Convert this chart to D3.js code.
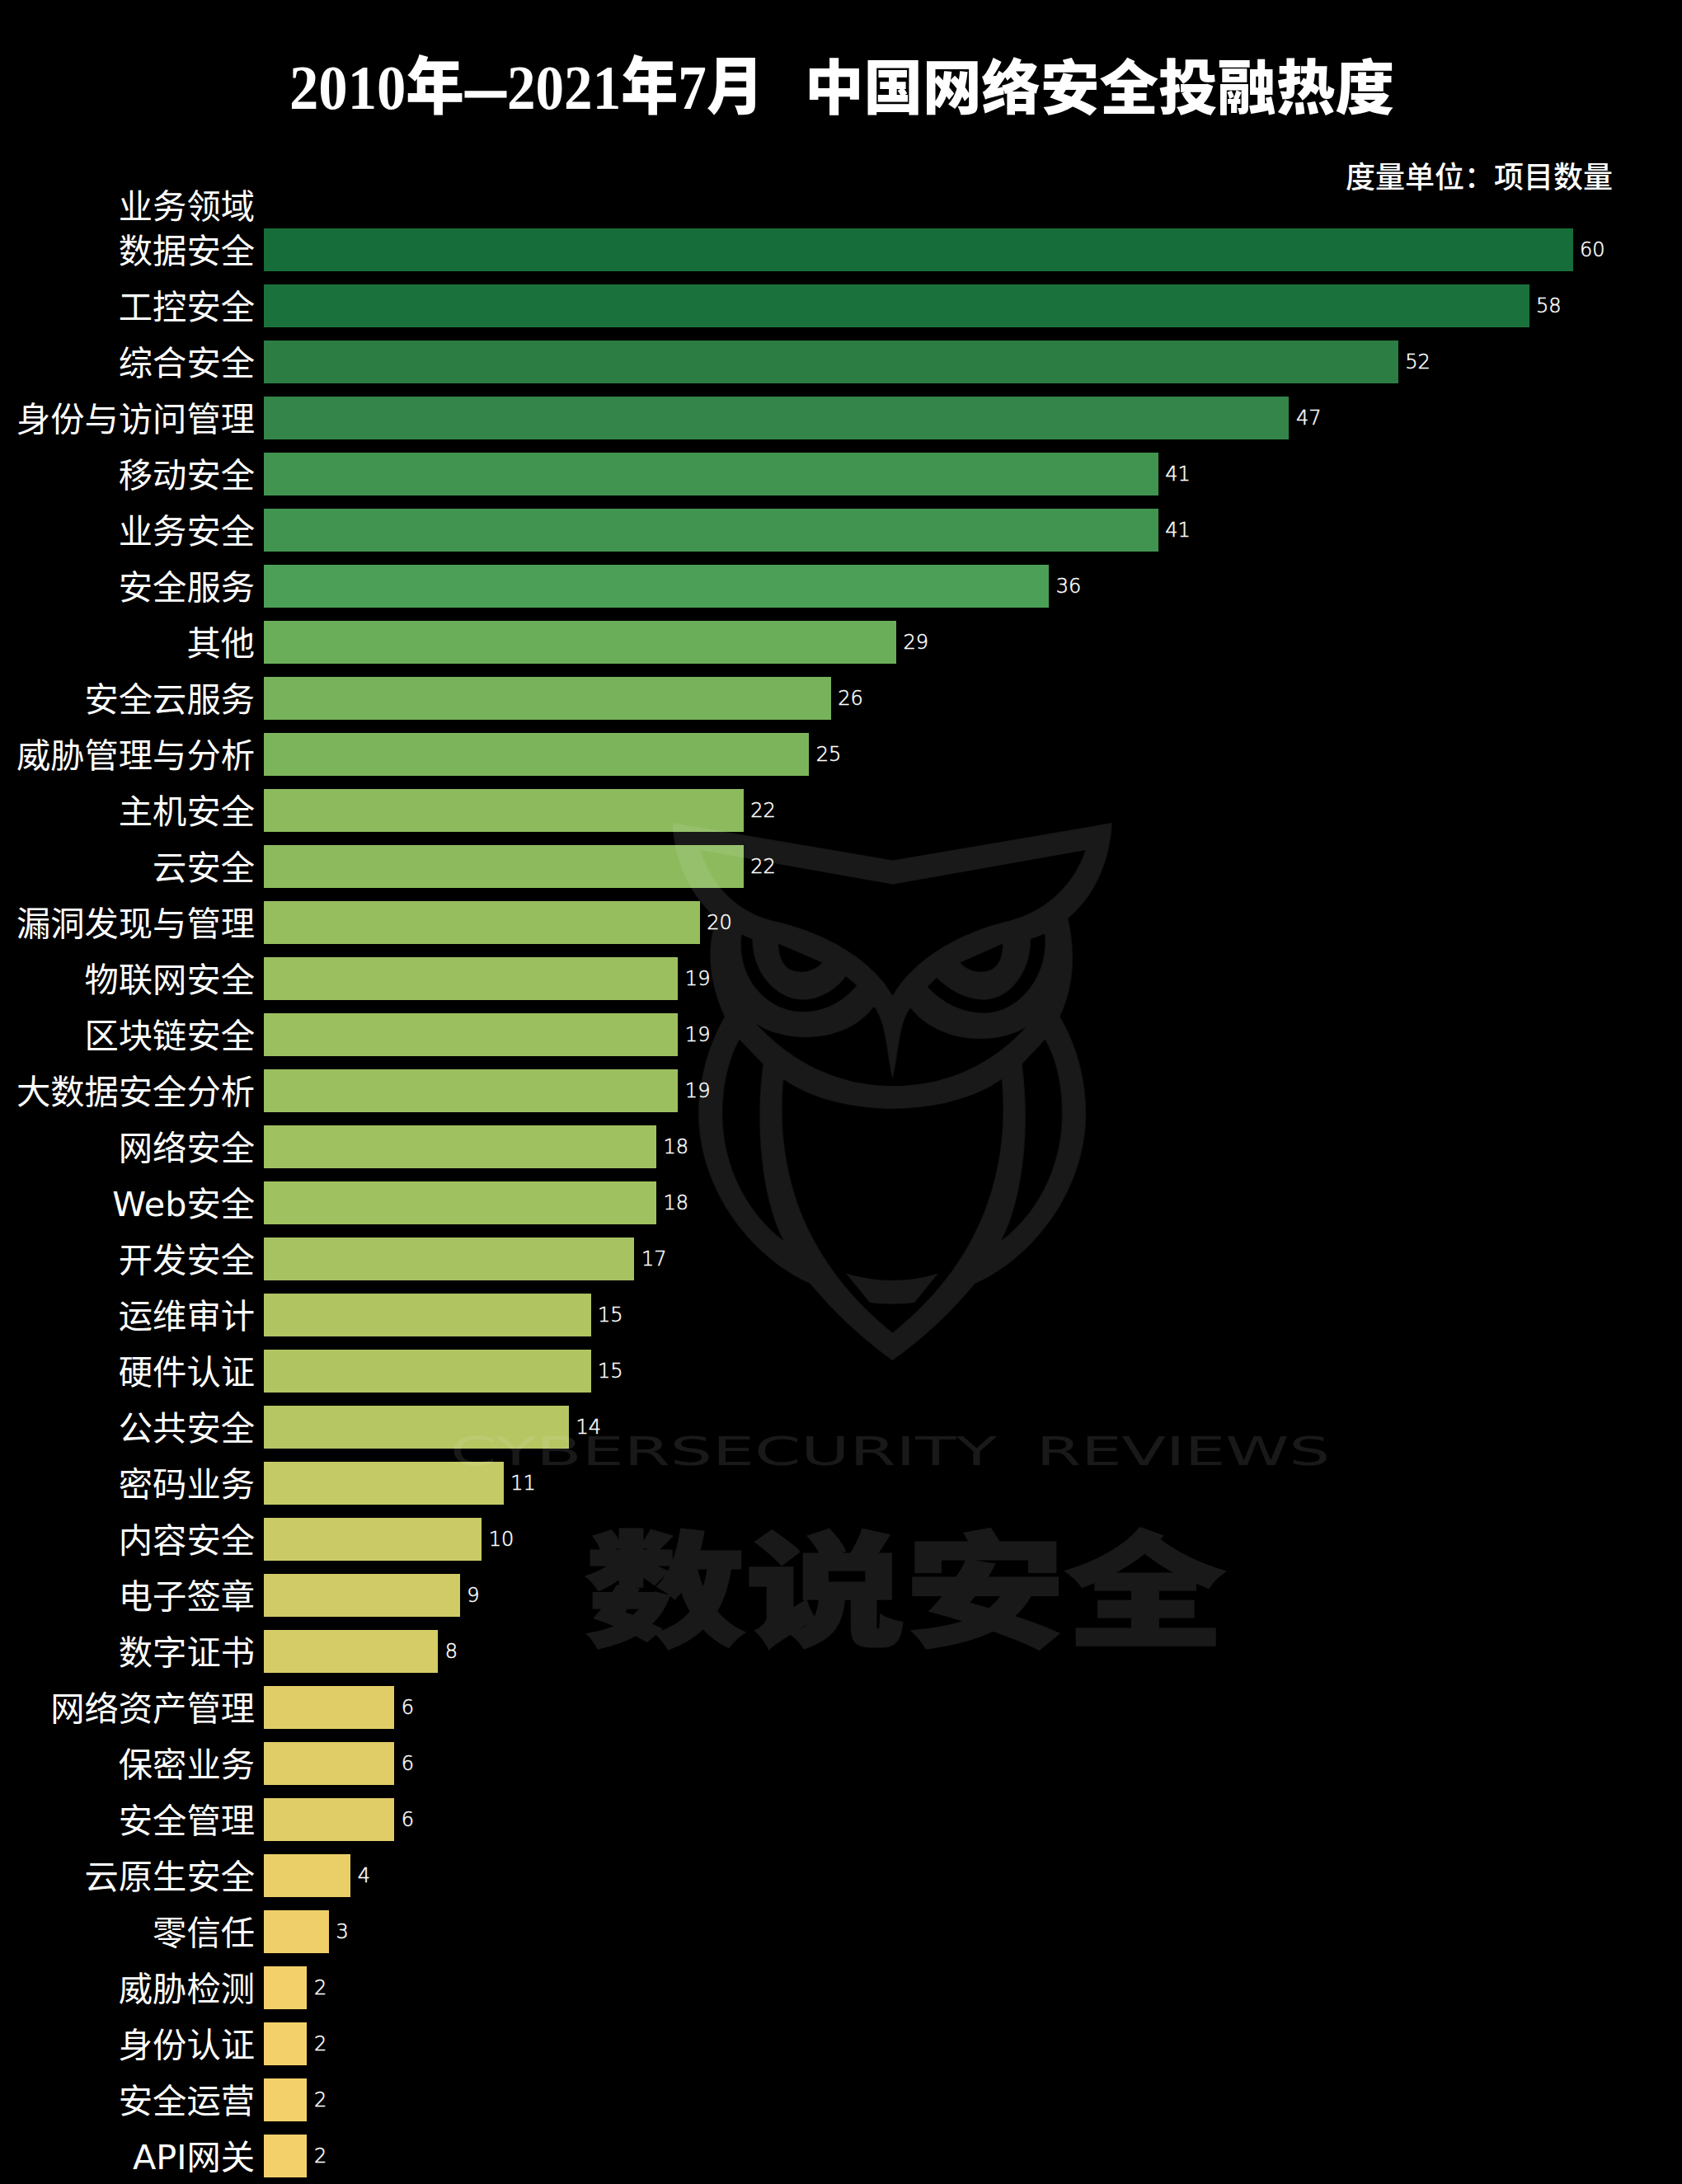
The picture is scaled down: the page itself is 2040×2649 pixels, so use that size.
<!DOCTYPE html>
<html><head><meta charset="utf-8">
<script src="https://cdnjs.cloudflare.com/ajax/libs/d3/7.8.5/d3.min.js"></script>
<style>html,body{margin:0;padding:0;background:#000}svg{display:block}</style>
</head><body><div id="chart"></div>
<script>
const categories=["数据安全","工控安全","综合安全","身份与访问管理","移动安全","业务安全","安全服务","其他","安全云服务","威胁管理与分析","主机安全","云安全","漏洞发现与管理","物联网安全","区块链安全","大数据安全分析","网络安全","Web安全","开发安全","运维审计","硬件认证","公共安全","密码业务","内容安全","电子签章","数字证书","网络资产管理","保密业务","安全管理","云原生安全","零信任","威胁检测","身份认证","安全运营","API网关"];
const values=[60,58,52,47,41,41,36,29,26,25,22,22,20,19,19,19,18,18,17,15,15,14,11,10,9,8,6,6,6,4,3,2,2,2,2];
const colorStops=[2,6,11,15,19,25,29,36,41,47,52,60];
const colorRange=["#f3d06a","#e1cd68","#c4ca65","#b0c562","#9bbf5f","#7cb45b","#6bae59","#4c9f56","#419450","#34854a","#2b7d44","#166d39"];
const W=2040,H=2649;
const svg=d3.select("#chart").append("svg").attr("width",W).attr("height",H).style("background","#000");
const cjk='"Noto Sans CJK SC"';
const x=d3.scaleLinear().domain([0,60]).range([320,1908]);
const y=d3.scaleBand().domain(categories).range([269,2649]).paddingInner(16/68).paddingOuter(8/68);
const color=d3.scaleLinear().domain(colorStops).range(colorRange);

svg.selectAll("rect.bar").data(values).join("rect").attr("class","bar")
 .attr("x",x(0)).attr("y",(d,i)=>y(categories[i])).attr("height",y.bandwidth())
 .attr("width",d=>Math.floor(x(d))-x(0)).attr("fill",d=>color(d));

const axis=svg.append("g").attr("transform",`translate(${x(0)},0)`).call(d3.axisLeft(y).tickSize(0).tickPadding(11));
axis.select(".domain").remove();
axis.selectAll("text").attr("fill","#fff").attr("font-size",41.3).attr("font-family",`"DejaVu Sans",${cjk}`).attr("dy","0.38em");

svg.selectAll("text.val").data(values).join("text").attr("class","val")
 .attr("x",d=>x(d)+8).attr("y",(d,i)=>y(categories[i])+y.bandwidth()/2+8)
 .attr("fill","#fff").attr("stroke","#fff").attr("stroke-width",0.5).attr("font-size",24).attr("font-weight",200).attr("font-family",'"DejaVu Sans"').text(d=>d);

svg.append("text").attr("x",309).attr("y",265).attr("text-anchor","end").attr("fill","#fff")
 .attr("font-size",41.3).attr("font-family",`"DejaVu Sans",${cjk}`).text("业务领域");
svg.append("text").attr("x",1956).attr("y",228).attr("text-anchor","end").attr("fill","#fff")
 .attr("font-size",36).attr("font-weight",500).attr("font-family",cjk).text("度量单位：项目数量");

const titleFont=`"Liberation Serif",${cjk}`;
function titlePart(txt,px,len,size){
  return svg.append("text").attr("x",px).attr("y",132).attr("fill","#fff").attr("font-weight",900)
   .attr("font-size",size).attr("font-family",titleFont)
   .attr("textLength",len).attr("lengthAdjust","spacingAndGlyphs").text(txt);
}
titlePart("2010年",351,212,76);
titlePart("–",566,46,76).attr("stroke","#fff").attr("stroke-width",3);
titlePart("2021年7月",615,311,76);
titlePart("中国网络安全投融热度",976,715,72);

// watermark
const wm=svg.append("g").attr("opacity",0.1);
const owl="M90,83 L765,182 L1438,83 C1432,190 1380,280 1303,335 C1325,420 1325,510 1278,595 C1330,670 1358,760 1358,850 C1358,1050 1200,1230 1018,1300 C930,1390 850,1450 765,1503 C680,1450 600,1390 512,1300 C330,1230 170,1050 170,850 C170,760 200,670 250,595 C205,510 190,420 225,335 C150,280 95,190 90,83Z"
+"M175,155 L765,245 L1357,155 C1320,250 1230,320 1120,342 C980,370 830,440 765,540 C700,440 550,370 400,342 C290,320 210,250 175,155Z"
+"M302,378 L335,390 C335,480 410,550 490,550 C540,550 590,525 622,488 L655,512 C610,560 550,582 490,582 C380,582 285,490 302,378Z"
+"M1232,376 L1188,390 C1190,480 1120,550 1045,550 C990,550 940,525 900,492 L872,516 C920,560 980,585 1045,585 C1150,585 1245,490 1232,376Z"
+"M415,402 L550,452 C520,478 480,482 450,470 C425,458 415,430 415,402Z"
+"M1103,402 L972,452 C1000,478 1040,482 1070,470 C1095,458 1103,430 1103,402Z"
+"M345,612 C430,665 620,670 708,568 C745,610 745,680 765,760 C785,680 785,610 820,572 C910,670 1090,670 1175,622 C1050,740 900,778 765,778 C620,778 470,730 345,612Z"
+"M295,655 L368,720 C340,900 370,1090 432,1188 C300,1100 243,970 243,850 C243,780 260,710 295,655Z"
+"M1233,655 L1162,720 C1190,900 1160,1090 1097,1188 C1230,1100 1285,970 1285,850 C1285,780 1270,710 1233,655Z"
+"M430,760 C600,864 930,864 1100,760 C1125,1000 1040,1240 765,1430 C490,1240 405,1000 430,760Z"
+"M622,1273 C710,1298 820,1298 905,1273 L832,1350 C790,1355 740,1355 695,1350Z";
wm.append("path").attr("transform",`translate(780,960) scale(${1/2.529},${1/2.178})`).attr("d",owl).attr("fill","#fff").attr("fill-rule","evenodd");
wm.append("text").attr("x",546).attr("y",1777).attr("fill","#fff").attr("font-size",48).attr("font-family",'"DejaVu Sans"')
 .attr("textLength",663).attr("lengthAdjust","spacingAndGlyphs").text("CYBERSECURITY");
wm.append("text").attr("x",1257).attr("y",1777).attr("fill","#fff").attr("font-size",48).attr("font-family",'"DejaVu Sans"')
 .attr("textLength",356).attr("lengthAdjust","spacingAndGlyphs").text("REVIEWS");
wm.append("text").attr("x",710).attr("y",1984).attr("fill","#fff").attr("stroke","#fff").attr("stroke-width",3).attr("font-size",150).attr("font-family",cjk).attr("font-weight",900)
 .attr("textLength",776).attr("lengthAdjust","spacingAndGlyphs").text("数说安全");
</script></body></html>
